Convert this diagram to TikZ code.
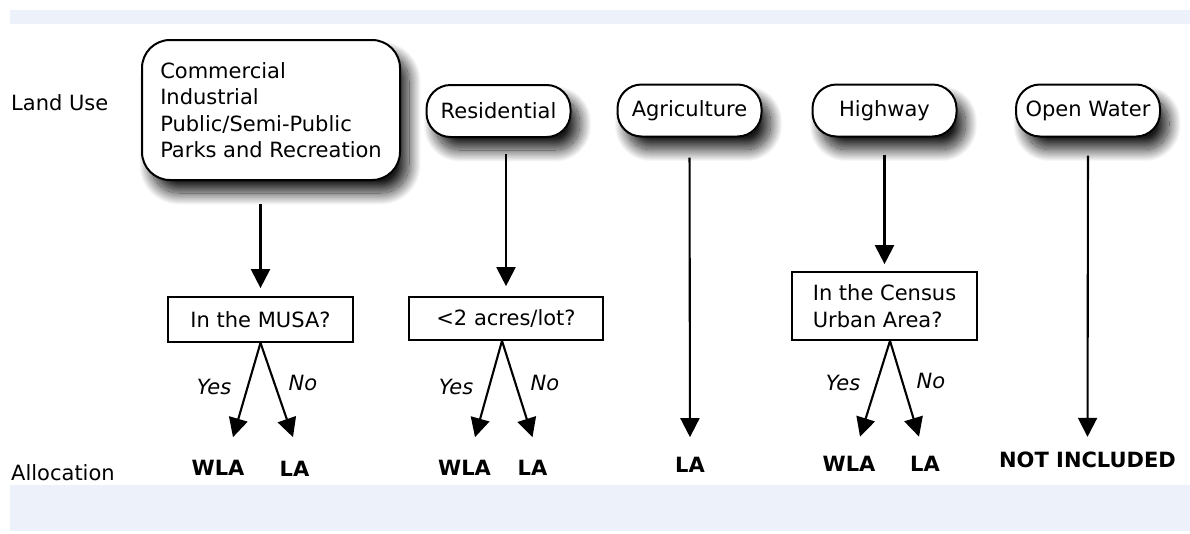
\documentclass[tikz,border=0pt]{standalone}
\usepackage{fontspec}
\setmainfont{DejaVu Sans}
\usetikzlibrary{arrows.meta,shadows.blur}
\definecolor{bandblue}{RGB}{237,241,249}
\tikzset{
    landbox/.style={draw,line width=2pt,rounded corners=24pt,fill=white,
        minimum width=144pt,minimum height=52pt,
        blur shadow={shadow xshift=9pt,shadow yshift=-13pt,shadow blur radius=12pt,shadow blur steps=30,shadow opacity=90}},
    askbox/.style={draw,line width=1.7pt,fill=white,align=left},
    alloc/.style={font=\bfseries},
    ans/.style={font=\itshape},
    arr/.style={-{Triangle[length=19pt,width=19pt]},line width=2.1pt,shorten <=18pt,shorten >=8pt}
}
\begin{document}
\fontsize{21}{26.5}\selectfont
\begin{tikzpicture}[x=1pt,y=-1pt,inner sep=0pt]
                        \useasboundingbox (0,0) rectangle (1190,533);
                        \fill[bandblue] (10,10) rectangle (1190,24);
                        \fill[bandblue] (10,485) rectangle (1190,531);
                        \node[anchor=west] (landuse) at (11,103) {Land Use};
                        \node[anchor=west] (allocation) at (11,473) {Allocation};
                        \node[landbox,minimum width=258pt,minimum height=140pt,rounded corners=28pt,align=left] (com) at (271,110)
                            {Commercial\\Industrial\\Public/Semi-Public\\Parks and Recreation};
                        \node[landbox] (res) at (498.5,111) {Residential};
                        \node[landbox] (agri) at (689.5,110.5) {Agriculture};
                        \node[landbox] (hwy) at (884.5,110.5) {Highway};
                        \node[landbox] (water) at (1088,110.5) {Open Water};
                        \node[askbox,minimum width=185pt,minimum height=45pt] (musa) at (260.5,319.5) {In the MUSA?};
                        \node[askbox,minimum width=194pt,minimum height=43pt] (acres) at (506,318.5) {<2 acres/lot?};
                        \node[askbox,minimum width=185pt,minimum height=68pt] (census) at (884.5,306) {In the Census\\Urban Area?};
                        \node[alloc] (wla1) at (218,468) {WLA};
                        \node[alloc] (la1) at (294.5,469) {LA};
                        \node[alloc] (wla2) at (464.5,468) {WLA};
                        \node[alloc] (la2) at (532.5,468) {LA};
                        \node[alloc] (la3) at (690,465) {LA};
                        \node[alloc] (wla4) at (849,463.5) {WLA};
                        \node[alloc] (la4) at (925,463.5) {LA};
                        \node[alloc] (none) at (1087.5,460) {NOT INCLUDED};
                        \node[ans] (yes1) at (214,387) {Yes};
                        \node[ans] (no1) at (303,383) {No};
                        \node[ans] (yes2) at (456,387) {Yes};
                        \node[ans] (no2) at (545,383) {No};
                        \node[ans] (yes4) at (843,383) {Yes};
                        \node[ans] (no4) at (931,381) {No};
                        \draw[arr,shorten <=23pt] (musa.north |- com.south) -- (musa.north);
                        \draw[arr,shorten <=16pt,shorten >=10pt] (acres.north |- res.south) -- (acres.north);
                        \draw[arr,shorten <=20pt,shorten >=20pt] (agri.south) -- (la3.north);
                        \draw[arr,shorten <=17pt,shorten >=7pt] (hwy.south) -- (census.north);
                        \draw[arr,shorten >=15pt] (water.south) -- (none.north);
                        \draw[arr,shorten <=0pt,shorten >=0pt] (musa.south) -- ([xshift=15pt,yshift=23pt]wla1.north);
                        \draw[arr,shorten <=0pt,shorten >=0pt] (musa.south) -- ([xshift=-1.5pt,yshift=24pt]la1.north);
                        \draw[arr,shorten <=0pt,shorten >=0pt] ([xshift=-4pt]acres.south) -- ([xshift=10.5pt,yshift=23pt]wla2.north);
                        \draw[arr,shorten <=0pt,shorten >=0pt] ([xshift=-4pt]acres.south) -- ([yshift=23pt]la2.north);
                        \draw[arr,shorten <=0pt,shorten >=0pt] ([xshift=5.5pt]census.south) -- ([xshift=11pt,yshift=19pt]wla4.north);
                        \draw[arr,shorten <=0pt,shorten >=0pt] ([xshift=5.5pt]census.south) -- ([xshift=-6pt,yshift=19pt]la4.north);
                    \end{tikzpicture}
\end{document}
